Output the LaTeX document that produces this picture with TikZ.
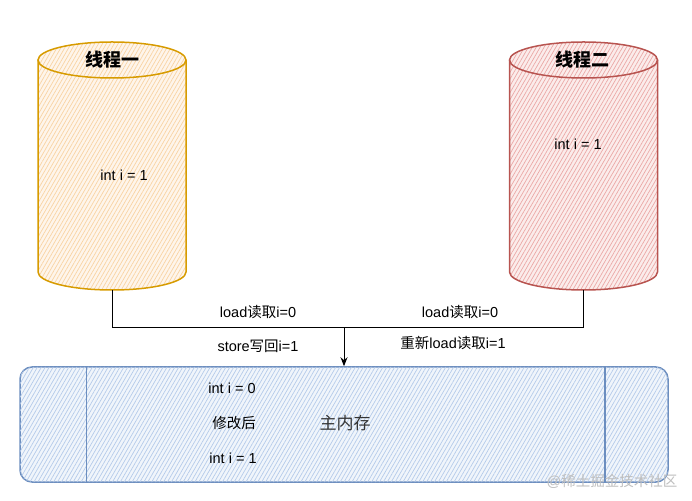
\documentclass[tikz,border=0pt]{standalone}
\usepackage{fontspec}
\setmainfont{Liberation Sans}
\newfontfamily\cjk{Noto Sans CJK SC}
\usetikzlibrary{patterns.meta,arrows.meta,positioning}
\definecolor{oneline}{HTML}{D79B00}
\definecolor{onehatch}{HTML}{F9D3A3}
\definecolor{twoline}{HTML}{B85450}
\definecolor{twohatch}{HTML}{EBA8A6}
\definecolor{memline}{HTML}{6C8EBF}
\definecolor{memhatch}{HTML}{B5CBEA}
\tikzset{
  hatch/.style={postaction={pattern={Lines[angle=60,distance=3.4pt,line width=0.7pt]}, pattern color=#1}},
  txt/.style={font=\fontsize{14.5}{16}\selectfont, inner sep=1pt},
  title/.style={font=\fontsize{18}{20}\selectfont\cjk\bfseries, inner sep=1pt},
  link/.style={draw=black, line width=1pt},
}
% cylinder: #1 centre x, #2 line colour, #3 hatch colour
\newcommand{\threadcyl}[3]{%
  \fill[#3!22, hatch=#3] (#1-74pt,440pt) -- (#1-74pt,228pt)
    arc[start angle=180, end angle=360, x radius=74pt, y radius=18pt]
    -- (#1+74pt,440pt) arc[start angle=0, end angle=180, x radius=74pt, y radius=18pt] -- cycle;
  \draw[#2, line width=1.5pt] (#1-74pt,440pt) -- (#1-74pt,228pt)
    arc[start angle=180, end angle=360, x radius=74pt, y radius=18pt] -- (#1+74pt,440pt);
  \draw[#2, line width=1.5pt] (#1,440pt) ellipse[x radius=74pt, y radius=18pt];
}
\begin{document}
\begin{tikzpicture}[x=1pt, y=1pt, >={Stealth[length=9pt, width=7pt]}]
  \useasboundingbox (0,0) rectangle (692,500);
  % threads
  \threadcyl{112pt}{oneline}{onehatch}
  \threadcyl{583.5pt}{twoline}{twohatch}
  \coordinate (t1) at (112,210);
  \coordinate (t2) at (583.5,210);
  \node[title] (t1name) at (112,440) {线程一};
  \node[title] (t2name) at (582,440) {线程二};
  \node[txt] (t1val) at (124,325) {int i = 1};
  \node[txt] (t2val) at (578,356) {int i = 1};
  % main memory
  \node[draw=memline, line width=1.5pt, rounded corners=12pt, fill=memhatch!20, hatch=memhatch,
    minimum width=648pt, minimum height=115pt, inner sep=0pt] (mem) at (344,75.5) {};
  \draw[memline, line width=1.5pt] ([xshift=67pt]mem.north west) -- ([xshift=67pt]mem.south west);
  \draw[memline, line width=1.5pt] ([xshift=-64pt]mem.north east) -- ([xshift=-64pt]mem.south east);
  \node[txt] (before) at (232,112) {int i = 0};
  \node[txt] (mod) at (234,77) {\cjk 修改后};
  \node[txt] (after) at (233,42) {int i = 1};
  \node[txt, font=\fontsize{17}{19}\selectfont\cjk\color{black!80}] (memname) at (345,77) {主内存};
  % connectors
  \coordinate (junc) at (344,172);
  \draw[link] (t1) |- (junc);
  \draw[link] (t2) |- (junc);
  \draw[link, ->] (junc) -- (mem.north);
  \node[txt] (load1) at (258,188) {load{\cjk 读取}i=0};
  \node[txt] (store1) at (258,154) {store{\cjk 写回}i=1};
  \node[txt] (load2) at (460,188) {load{\cjk 读取}i=0};
  \node[txt] (reload2) at (453,157) {{\cjk 重新}load{\cjk 读取}i=1};
  \node[txt, text=black!25] (mark) at (612,19) {@{\cjk 稀土掘金技术社区}};
\end{tikzpicture}
\end{document}
